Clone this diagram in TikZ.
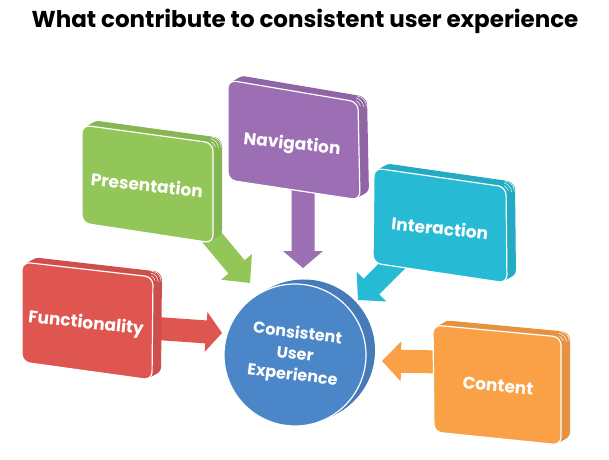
\documentclass[tikz,border=0pt]{standalone}
\usepackage{fontspec}
\setmainfont{Poppins}
\usetikzlibrary{calc}

\definecolor{fnred}{HTML}{DF5550}
\definecolor{prgreen}{HTML}{92C658}
\definecolor{nvpurple}{HTML}{9C6EB4}
\definecolor{incyan}{HTML}{26BAD4}
\definecolor{ctorange}{HTML}{FAA046}
\definecolor{cueblue}{HTML}{4B87C8}

\tikzset{
  boxlabel/.style={text=white, font=\bfseries\fontsize{17}{20}\selectfont, align=center, inner sep=0pt},
  titletext/.style={font=\bfseries\fontsize{23}{26}\selectfont, inner sep=0pt},
}

% Thick slab with a rounded front face; #1 corner prefix, #2 face colour, #3 side colour
\newcommand\slab[3]{%
  \foreach \k [evaluate=\k as \dx using \k*0.9, evaluate=\k as \dy using \k*0.5] in {10,9,...,1}{%
    \fill[#3, rounded corners=8pt]
      ([xshift=\dx pt, yshift=\dy pt]#1-tl) -- ([xshift=\dx pt, yshift=\dy pt]#1-tr) --
      ([xshift=\dx pt, yshift=\dy pt]#1-br) -- ([xshift=\dx pt, yshift=\dy pt]#1-bl) -- cycle;
  }%
  \begin{scope}
    \clip ([xshift=6pt, yshift=3pt]#1-tr) circle (8pt);
    \foreach \k [evaluate=\k as \dx using \k*0.9, evaluate=\k as \dy using \k*0.5] in {3,6,9}{%
      \draw[white, line width=0.5pt, rounded corners=8pt]
        ([xshift=\dx pt, yshift=\dy pt]#1-tl) -- ([xshift=\dx pt, yshift=\dy pt]#1-tr) --
        ([xshift=\dx pt, yshift=\dy pt]#1-br) -- ([xshift=\dx pt, yshift=\dy pt]#1-bl) -- cycle;
    }%
  \end{scope}
  \filldraw[fill=#2, draw=white, line width=1.2pt, rounded corners=8pt]
    (#1-tl) -- (#1-tr) -- (#1-br) -- (#1-bl) -- cycle;
}

% Block arrow: #1 colour, #2 start, #3 tip, #4 half shaft width, #5 half head width, #6 head length
\newcommand\blockarrow[6]{%
  \coordinate (headbase) at ($(#3)!#6!(#2)$);
  \fill[#1] ($(#2)!#4!90:(#3)$) -- ($(headbase)!#4!90:(#3)$) -- ($(headbase)!#5!90:(#3)$) --
    (#3) -- ($(headbase)!#5!-90:(#3)$) -- ($(headbase)!#4!-90:(#3)$) -- ($(#2)!#4!-90:(#3)$) -- cycle;
}

\begin{document}
\begin{tikzpicture}[x=1pt,y=-1pt]
  \fill[white] (0,0) rectangle (609,459);

  \node[titletext] (title) at (305,21) {What contribute to consistent user experience};

  % face corners
  \coordinate (fn-tl) at (22,262);  \coordinate (fn-tr) at (153,277);
  \coordinate (fn-br) at (152,380); \coordinate (fn-bl) at (22,362);
  \coordinate (pr-tl) at (82,125);  \coordinate (pr-tr) at (213,143);
  \coordinate (pr-br) at (213,243); \coordinate (pr-bl) at (82,223);
  \coordinate (nv-tl) at (228,80);  \coordinate (nv-tr) at (358,102);
  \coordinate (nv-br) at (360,200); \coordinate (nv-bl) at (228,180);
  \coordinate (in-tl) at (374,168); \coordinate (in-tr) at (506,187);
  \coordinate (in-br) at (507,283); \coordinate (in-bl) at (373,263);
  \coordinate (ct-tl) at (433,325); \coordinate (ct-tr) at (561,337);
  \coordinate (ct-br) at (561,445); \coordinate (ct-bl) at (434,432);

  % arrow ends
  \coordinate (fn-out) at (150,328); \coordinate (fn-tip) at (222,333);
  \coordinate (pr-out) at (205,229); \coordinate (pr-tip) at (250,283);
  \coordinate (nv-out) at (303,190); \coordinate (nv-tip) at (303,268);
  \coordinate (in-out) at (400,258); \coordinate (in-tip) at (358,300);
  \coordinate (ct-out) at (445,362); \coordinate (ct-tip) at (382,361);

  % arrows into the centre
  \blockarrow{fnred}{fn-out}{fn-tip}{11.5pt}{20pt}{16pt}
  \blockarrow{prgreen}{pr-out}{pr-tip}{10.5pt}{20pt}{21pt}
  \blockarrow{nvpurple}{nv-out}{nv-tip}{11.5pt}{20pt}{17pt}
  \blockarrow{incyan}{in-out}{in-tip}{11pt}{21pt}{19pt}
  \blockarrow{ctorange}{ct-out}{ct-tip}{11.5pt}{20pt}{19pt}

  % slabs
  \slab{fn}{fnred}{fnred!92!black}
  \slab{pr}{prgreen}{prgreen!92!black}
  \slab{nv}{nvpurple}{nvpurple!92!black}
  \slab{in}{incyan}{incyan!92!black}
  \slab{ct}{ctorange}{ctorange!92!black}

  \node[boxlabel, rotate=-6] (fn) at (86,324) {Functionality};
  \node[boxlabel, rotate=-6] (pr) at (147,185) {Presentation};
  \node[boxlabel, rotate=-6] (nv) at (292,145) {Navigation};
  \node[boxlabel, rotate=-6] (in) at (440,228) {Interaction};
  \node[boxlabel, rotate=-6] (ct) at (498,386) {Content};

  % centre disk
  \foreach \k [evaluate=\k as \dx using \k*0.9, evaluate=\k as \dy using \k*0.45] in {10,9,...,1}{%
    \fill[cueblue!92!black] ([xshift=\dx pt, yshift=\dy pt]295,355) circle (71);
  }
  \node[circle, fill=cueblue, draw=white, line width=1.2pt, minimum size=142pt,
        rotate=-7, text=white, font=\bfseries\fontsize{16}{21}\selectfont, align=center]
        (cue) at (295,355) {Consistent\\User\\Experience};
\end{tikzpicture}
\end{document}
